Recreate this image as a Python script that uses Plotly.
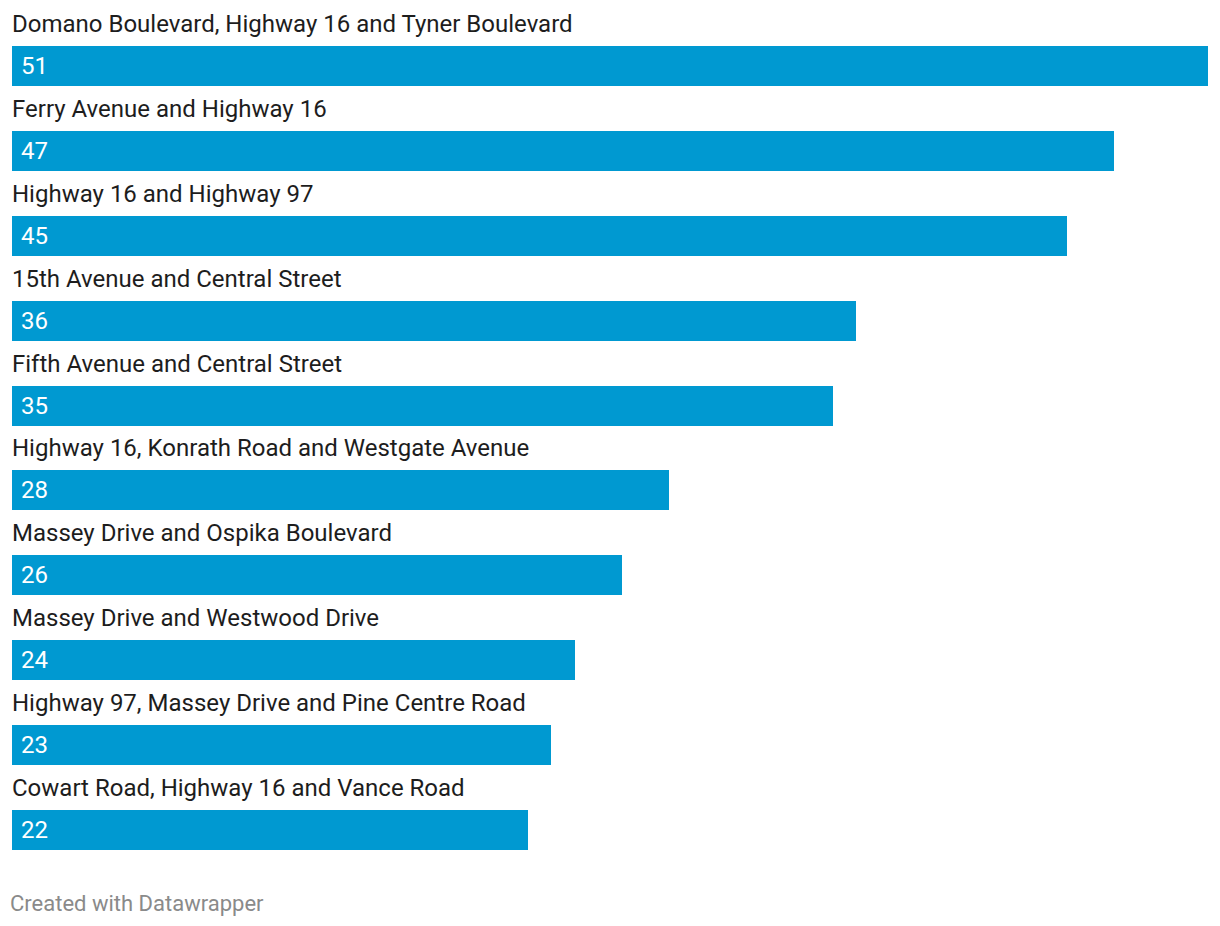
import plotly.graph_objects as go

categories = [
    "Domano Boulevard, Highway 16 and Tyner Boulevard",
    "Ferry Avenue and Highway 16",
    "Highway 16 and Highway 97",
    "15th Avenue and Central Street",
    "Fifth Avenue and Central Street",
    "Highway 16, Konrath Road and Westgate Avenue",
    "Massey Drive and Ospika Boulevard",
    "Massey Drive and Westwood Drive",
    "Highway 97, Massey Drive and Pine Centre Road",
    "Cowart Road, Highway 16 and Vance Road",
]
values = [51, 47, 45, 36, 35, 28, 26, 24, 23, 22]

BAR_COLOR = "#0099d1"
FONT = "Roboto"

fig = go.Figure()
fig.add_trace(go.Bar(
    x=values,
    y=categories,
    orientation="h",
    marker=dict(color=BAR_COLOR, line=dict(width=0)),
    width=0.472,
    hoverinfo="skip",
))

annotations = []
for cat, val in zip(categories, values):
    annotations.append(dict(
        x=0, y=cat, xref="x", yref="y",
        text=cat, showarrow=False,
        xanchor="left", yanchor="middle",
        yshift=42, xshift=-2,
        font=dict(family=FONT, size=24, color="#1d1d1d"),
    ))
    annotations.append(dict(
        x=0, y=cat, xref="x", yref="y",
        text=str(val), showarrow=False,
        xanchor="left", yanchor="middle",
        xshift=7, yshift=0,
        font=dict(family=FONT, size=24, color="#ffffff"),
    ))

annotations.append(dict(
    x=0, y=0, xref="paper", yref="paper",
    text="Created with Datawrapper", showarrow=False,
    xanchor="left", yanchor="middle",
    xshift=-4, yshift=-31,
    font=dict(family=FONT, size=22, color="#8a8a8a"),
))

fig.update_layout(
    width=1212, height=910,
    margin=dict(l=4, r=12, t=16, b=46),
    paper_bgcolor="white", plot_bgcolor="white",
    showlegend=False,
    annotations=annotations,
    xaxis=dict(range=[0, max(values)], visible=False, fixedrange=True),
    yaxis=dict(categoryorder="array", categoryarray=categories,
               range=[len(categories) - 0.5, -0.5], visible=False, fixedrange=True),
    bargap=0,
)

fig.write_html("out.html", config={"displayModeBar": False})
